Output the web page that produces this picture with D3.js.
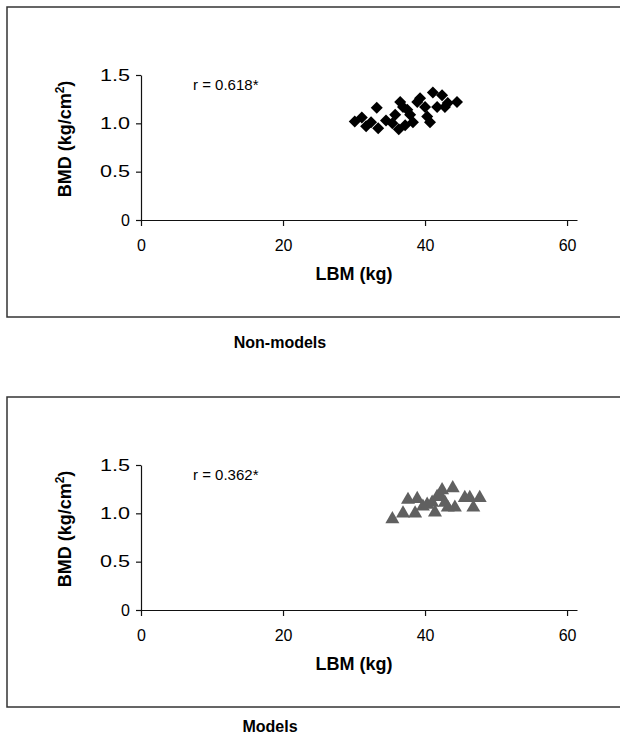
<!DOCTYPE html>
<html>
<head>
<meta charset="utf-8">
<script src="https://cdn.jsdelivr.net/npm/d3@7"></script>
<style>
  body { margin: 0; background: #fff; }
  svg { display: block; font-family: "Liberation Sans", Arial, sans-serif; }
</style>
</head>
<body>
<svg id="chart" width="620" height="742"></svg>
<script>
// ---- data ----
const nonModelsLBM = [30.1, 31.1, 31.7, 32.4, 33.2, 33.4, 34.5, 35.4, 35.8, 36.3, 36.5, 36.9, 37.2, 37.5, 37.9, 38.3, 38.9, 39.3, 40.0, 40.3, 40.7, 41.1, 41.7, 42.4, 42.8, 43.2, 44.5];
const nonModelsBMD = [1.02, 1.06, 0.97, 1.01, 1.16, 0.95, 1.03, 1.00, 1.09, 0.94, 1.22, 1.17, 0.98, 1.14, 1.09, 1.01, 1.22, 1.26, 1.17, 1.07, 1.01, 1.32, 1.17, 1.29, 1.17, 1.21, 1.22];
const modelsLBM = [35.4, 36.9, 37.6, 38.6, 38.9, 39.7, 40.3, 41.0, 41.4, 41.7, 42.1, 42.4, 42.8, 43.2, 43.9, 44.2, 45.6, 46.3, 46.8, 47.7];
const modelsBMD = [0.94, 1.00, 1.14, 1.00, 1.15, 1.07, 1.09, 1.11, 1.01, 1.17, 1.19, 1.24, 1.11, 1.06, 1.26, 1.06, 1.16, 1.16, 1.06, 1.16];
const xTicks = [0, 20, 40, 60];
const yTicks = [0, 0.5, 1.0, 1.5];
const panelTitles = ["Non-models", "Models"];
const rLabels = ["r = 0.618*", "r = 0.362*"];
const xTitle = "LBM (kg)";

const svg = d3.select("#chart");

function drawPanel(dy, xs, ys, symbolType, size, color, rText, title, titleX, titleY) {
  const g = svg.append("g").attr("transform", `translate(0,${dy})`);
  // frame
  g.append("rect").attr("x", 7).attr("y", 7).attr("width", 630).attr("height", 310)
    .attr("fill", "none").attr("stroke", "#333").attr("stroke-width", 1.5);

  const x = d3.scaleLinear().domain([0, 61.4]).range([141, 577]);
  const y = d3.scaleLinear().domain([0, 1.5]).range([220, 75]);

  const xAxis = g.append("g").attr("transform", `translate(0,${y(0)})`)
    .call(d3.axisBottom(x).tickValues(xTicks).tickSize(6).tickSizeOuter(0).tickPadding(14).tickFormat(d3.format("d")));
  const yAxis = g.append("g").attr("transform", `translate(${x(0)},0)`)
    .call(d3.axisLeft(y).tickValues(yTicks).tickSize(5).tickSizeOuter(0).tickPadding(6)
      .tickFormat(d => d === 0 ? "0" : d3.format(".1f")(d)));
  [xAxis, yAxis].forEach(a => {
    a.selectAll("path, line").attr("stroke", "#111").attr("stroke-width", 1.2);
    a.selectAll("text").attr("font-size", 16).attr("fill", "#000")
      .attr("font-family", "'Liberation Sans', Arial, sans-serif");
  });
  yAxis.selectAll("text")
    .filter(d => d !== 0)
    .attr("textLength", 30).attr("lengthAdjust", "spacingAndGlyphs");

  // points
  const sym = d3.symbol().type(symbolType).size(size);
  g.append("g").selectAll("path").data(xs.map((v, i) => [v, ys[i]]))
    .join("path")
    .attr("d", sym)
    .attr("transform", d => symbolType === d3.symbolSquare
      ? `translate(${x(d[0])},${y(d[1])}) rotate(45)`
      : `translate(${x(d[0])},${y(d[1])})`)
    .attr("fill", color);

  g.append("text").attr("x", 193).attr("y", 90).attr("font-size", 15).text(rText);

  g.append("text").attr("x", 354).attr("y", 280).attr("text-anchor", "middle")
    .attr("font-size", 18).attr("font-weight", "bold").text(xTitle);

  const yl = g.append("text").attr("transform", "translate(71,139) rotate(-90)")
    .attr("text-anchor", "middle").attr("font-size", 18).attr("font-weight", "bold");
  yl.append("tspan").text("BMD (kg/cm");
  yl.append("tspan").attr("font-size", 12).attr("dy", -7).text("2");
  yl.append("tspan").attr("dy", 7).text(")");

  g.append("text").attr("x", titleX).attr("y", titleY).attr("text-anchor", "middle")
    .attr("font-size", 16).attr("font-weight", "bold").text(title);
}

drawPanel(0, nonModelsLBM, nonModelsBMD, d3.symbolSquare, 72, "#000", rLabels[0], panelTitles[0], 280, 348);
drawPanel(390, modelsLBM, modelsBMD, d3.symbolTriangle, 85, "#606060", rLabels[1], panelTitles[1], 270, 342);
</script>
</body>
</html>
